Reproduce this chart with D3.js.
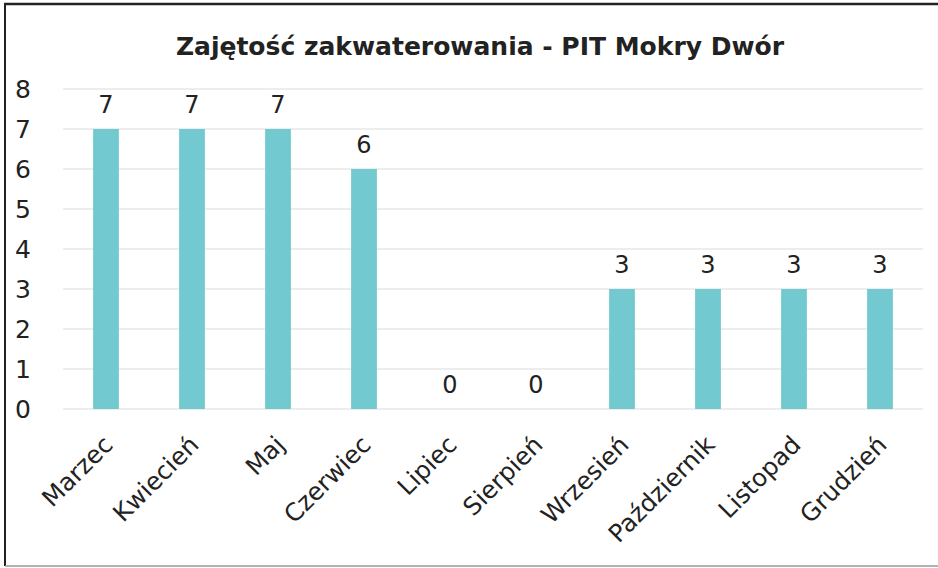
<!DOCTYPE html>
<html><head><meta charset="utf-8">
<script src="https://cdn.jsdelivr.net/npm/d3@7"></script>
<style>body{margin:0;background:#fff;} svg{display:block;}</style>
</head><body>
<script>
const categories = ["Marzec","Kwiecień","Maj","Czerwiec","Lipiec","Sierpień","Wrzesień","Październik","Listopad","Grudzień"];
const values = [7,7,7,6,0,0,3,3,3,3];
const yTicks = [0,1,2,3,4,5,6,7,8];
const title = "Zajętość zakwaterowania - PIT Mokry Dwór";

const W = 938, H = 568;
const FONT = "DejaVu Sans, Verdana, sans-serif";
const svg = d3.select("body").append("svg").attr("width", W).attr("height", H);
svg.append("rect").attr("x",0).attr("y",0).attr("width",W).attr("height",H).attr("fill","#fff");
// frame: top and left dark, bottom faint, no right edge
svg.append("line").attr("x1",4).attr("x2",W).attr("y1",4).attr("y2",4).attr("stroke","#222").attr("stroke-width",2.5);
svg.append("line").attr("x1",5).attr("x2",5).attr("y1",4).attr("y2",566).attr("stroke","#222").attr("stroke-width",2);
svg.append("line").attr("x1",5).attr("x2",W).attr("y1",566).attr("y2",566).attr("stroke","#999").attr("stroke-width",1.5);

const m = {left:63, right:15, top:89, bottom:159};
const x = d3.scaleBand().domain(categories).range([m.left, W - m.right]).paddingInner(0.7).paddingOuter(0.35);
const y = d3.scaleLinear().domain([0,8]).range([H - m.bottom, m.top]);

svg.append("text").attr("x", 480).attr("y", 55).attr("text-anchor","middle")
  .attr("font-family",FONT).attr("font-weight","bold")
  .attr("font-size", 25).attr("fill","#222").text(title);

const grid = svg.append("g");
grid.selectAll("line").data(yTicks).join("line")
  .attr("x1", m.left).attr("x2", W - m.right)
  .attr("y1", d => y(d)).attr("y2", d => y(d))
  .attr("stroke","#dcdcdc").attr("stroke-width",1.2);

const yAxis = svg.append("g").attr("transform", `translate(${m.left - 40},0)`)
  .call(d3.axisLeft(y).tickValues(yTicks).tickSize(0).tickPadding(0).tickFormat(d3.format("d")));
yAxis.select(".domain").remove();
yAxis.selectAll("text").attr("font-family",FONT).attr("font-size",25).attr("fill","#222")
  .attr("text-anchor","middle").attr("dx", 0);

svg.append("g").selectAll("rect").data(values).join("rect")
  .attr("x",(d,i)=>x(categories[i])).attr("width", x.bandwidth())
  .attr("y", d=>y(d)).attr("height", d=>y(0)-y(d))
  .attr("fill","#72cad0");

svg.append("g").selectAll("text").data(values).join("text")
  .attr("x",(d,i)=>x(categories[i]) + x.bandwidth()/2)
  .attr("y", d=>y(d) - 16)
  .attr("text-anchor","middle")
  .attr("font-family",FONT).attr("font-size",24).attr("fill","#222")
  .text(d=>d);

const xAxis = svg.append("g").attr("transform", `translate(0,${y(0)})`)
  .call(d3.axisBottom(x).tickSize(0).tickPadding(0));
xAxis.select(".domain").remove();
xAxis.selectAll("text")
  .attr("font-family",FONT).attr("font-size",24.5).attr("fill","#222")
  .attr("text-anchor","end")
  .attr("transform","translate(-4,25) rotate(-45)")
  .attr("dy","0.71em");
</script>
</body></html>
